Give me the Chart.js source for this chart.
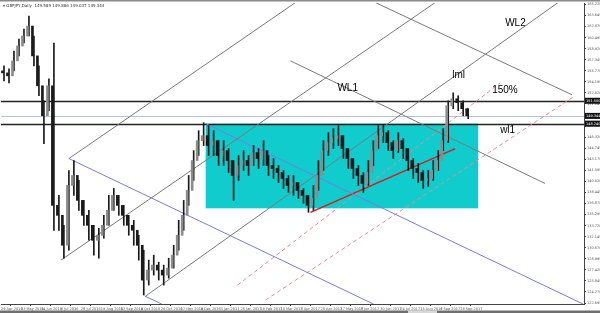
<!DOCTYPE html>
<html><head><meta charset="utf-8">
<script src="https://cdn.jsdelivr.net/npm/chart.js@4.4.0/dist/chart.umd.min.js"></script>
<style>html,body{margin:0;padding:0;background:#fff;overflow:hidden}#wrap{width:600px;height:313px;position:relative}</style>
</head><body><div id="wrap"><canvas id="c" width="600" height="313"></canvas></div>
<script>
// ---- data (GBPJPY, Daily, each entry = 4 trading days) ----
const opens  = [155.76,155.47,155.05,157.18,159.30,160.72,162.14,157.89,153.63,149.37,153.63,136.60,135.18,130.92,139.44,140.86,137.31,135.18,133.76,131.63,132.34,133.76,135.89,138.02,136.60,135.18,133.76,133.05,130.92,125.96,127.38,128.09,127.38,126.67,127.66,129.51,132.34,135.18,138.73,142.99,145.82,146.53,145.12,145.82,143.70,144.40,142.99,140.86,142.28,142.99,142.28,144.12,143.27,144.40,142.28,141.85,141.28,140.43,139.44,139.86,138.73,138.02,136.60,137.60,140.86,144.40,145.54,146.11,146.53,144.69,143.27,141.85,140.86,139.72,141.28,144.40,146.53,146.96,145.54,144.40,145.82,144.69,142.99,141.85,141.28,140.15,140.43,141.57,142.99,145.82,150.79,151.78,151.22,150.37];
const highs  = [156.47,156.04,158.59,160.30,161.72,163.56,160.72,156.47,151.50,154.62,159.73,138.02,133.76,141.57,142.99,140.15,137.31,135.89,133.76,133.34,135.18,138.02,139.01,138.02,136.60,135.18,134.47,132.34,130.21,128.80,129.51,128.51,128.09,129.08,130.92,134.47,137.31,140.86,144.40,147.24,148.38,147.96,147.24,145.82,145.82,144.69,142.99,143.70,144.40,143.70,145.12,144.69,145.82,143.70,143.27,142.28,141.57,140.86,140.86,139.86,139.01,138.02,139.44,142.99,145.82,146.96,147.53,147.96,146.53,144.69,143.27,142.28,141.28,142.99,145.82,147.96,148.10,147.24,145.82,146.96,146.11,144.69,143.27,142.56,141.57,141.57,142.99,144.40,147.53,151.50,152.63,152.21,151.50,150.37];
const lows   = [154.34,154.05,155.76,157.89,159.73,160.72,156.47,152.21,145.40,150.08,133.05,133.05,129.08,130.21,138.02,135.89,133.76,131.63,129.51,129.08,131.92,133.76,135.89,135.18,133.76,132.34,130.92,128.80,123.83,125.25,126.67,125.96,125.25,126.24,127.66,130.21,133.05,136.60,140.15,143.70,145.12,143.70,143.70,142.28,142.28,141.28,137.31,140.15,141.57,140.86,142.28,141.85,142.28,140.86,140.43,139.86,139.01,138.45,138.02,137.60,136.88,135.61,135.89,138.73,141.57,143.70,144.69,145.12,143.27,141.85,140.43,139.44,138.45,139.44,142.28,144.69,145.54,144.40,143.27,144.12,143.27,141.57,140.43,139.86,139.01,139.30,140.15,141.57,144.40,145.54,150.37,150.08,149.37,148.94];
const closes = [155.47,155.05,157.18,159.30,160.72,162.14,157.89,153.63,149.37,153.63,136.60,135.18,130.92,139.44,140.86,137.31,135.18,133.76,131.63,132.34,133.76,135.89,138.02,136.60,135.18,133.76,133.05,130.92,125.96,127.38,128.09,127.38,126.67,127.66,129.51,132.34,135.18,138.73,142.99,145.82,146.53,145.12,145.82,143.70,144.40,142.99,140.86,142.28,142.99,142.28,144.12,143.27,144.40,142.28,141.85,141.28,140.43,139.44,139.86,138.73,138.02,136.60,137.60,140.86,144.40,145.54,146.11,146.53,144.69,143.27,141.85,140.86,139.72,141.28,144.40,146.53,146.96,145.54,144.40,145.82,144.69,142.99,141.85,141.28,140.15,140.43,141.57,142.99,145.82,150.79,151.78,151.22,150.37,149.37];
const dateLabels = ['29 Apr 2016','23 May 2016','14 Jun 2016','6 Jul 2016','28 Jul 2016','19 Aug 2016','12 Sep 2016','4 Oct 2016','26 Oct 2016','17 Nov 2016','9 Dec 2016','3 Jan 2017','25 Jan 2017','16 Feb 2017','10 Mar 2017','3 Apr 2017','25 Apr 2017','17 May 2017','8 Jun 2017','30 Jun 2017','24 Jul 2017','15 Aug 2017','6 Sep 2017','28 Sep 2017'];
const yTickValues = [122.695,124.270,125.845,127.420,128.995,130.570,132.145,133.720,135.295,136.870,138.445,140.020,141.595,143.170,144.745,146.320,147.895,149.470,151.045,152.620,154.195,155.770,157.345,158.920,160.495,162.070,163.645,165.220];
const hLevels = [151.50, 148.24];      // black horizontal lines
const bidLevel = 149.344;              // current price line
const zoneBox = {x0:164, x1:382.4, yTop:148.24, yBot:136.18};
// trend lines: [x0,y0,x1,y1] in bar index / price
const grayLines = [[54.4,143.27,237.6,165.69],[48,128.80,349.6,165.69],[116,123.69,448,165.69],[232,157.18,436,139.72],[297.6,165.69,457.6,152.35]];
const blueLines = [[54.4,143.27,298.4,122.55],[115.2,123.69,128.8,122.55],[164,148.24,466.4,122.55]];
const redLine = [248,135.61,364,144.69];
const dashLines = [[189.6,125.25,400,154.05],[212,123.12,460,152.21]];
const notes = [['WL2',404,162.57],['WL1',269.6,153.34],['lml',361.6,155.19],['150%',393.6,153.06],['wl1',400,147.24]];

const idx = opens.map((_, i) => 2 + 4 * i);
const xTickIdx = dateLabels.map((_, i) => i * 16);

function lineDs(l, color, width, dash) {
  return {type:'line', data:[{x:l[0],y:l[1]},{x:l[2],y:l[3]}], borderColor:color, borderWidth:width,
    borderDash:dash||[], pointRadius:0, fill:false, tension:0, order:5};
}
const datasets = [
  {type:'bar', data: idx.map((x,i)=>({x, y:[lows[i], highs[i]]})), backgroundColor:'#1a1a1a', barThickness:1, order:2},
  {type:'bar', data: idx.map((x,i)=>({x, y:[Math.min(opens[i],closes[i]), Math.max(opens[i],closes[i])+0.001]})),
    backgroundColor: idx.map((x,i)=> closes[i]>=opens[i] ? '#8c8c8c' : '#1a1a1a'), borderWidth:0, barThickness:2, order:1},
];
grayLines.forEach(l=>datasets.push(lineDs(l,'#7a7a7a',1)));
blueLines.forEach(l=>datasets.push(lineDs(l,'#7b7be6',1)));
datasets.push(lineDs(redLine,'#e01818',1.5));
dashLines.forEach(l=>datasets.push(lineDs(l,'#f08a8a',1,[4,3])));

const decor = {
  id:'decor',
  beforeDatasetsDraw(chart){
    const {ctx, chartArea:a, scales:{x,y}} = chart;
    ctx.save();
    ctx.fillStyle = '#10CCCC';
    const x0=x.getPixelForValue(zoneBox.x0), x1=x.getPixelForValue(zoneBox.x1);
    const y0=y.getPixelForValue(zoneBox.yTop), y1=y.getPixelForValue(zoneBox.yBot);
    ctx.fillRect(x0,y0,x1-x0,y1-y0);
    ctx.lineWidth = 1.6; ctx.strokeStyle = '#222';
    hLevels.forEach(v=>{const p=Math.round(y.getPixelForValue(v))+0.5; ctx.beginPath(); ctx.moveTo(a.left,p); ctx.lineTo(a.right,p); ctx.stroke();});
    ctx.lineWidth = 1; ctx.strokeStyle = '#b4c4dc';
    const pb=Math.round(y.getPixelForValue(bidLevel))+0.5; ctx.beginPath(); ctx.moveTo(a.left,pb); ctx.lineTo(a.right,pb); ctx.stroke();
    ctx.restore();
  },
  afterDraw(chart){
    const {ctx, chartArea:a, scales:{x,y}} = chart;
    ctx.save();
    ctx.fillStyle = '#000'; ctx.font = '10px "Liberation Sans", Arial'; ctx.textBaseline='middle'; ctx.textAlign='left';
    notes.forEach(n=>ctx.fillText(n[0], x.getPixelForValue(n[1]), y.getPixelForValue(n[2])));
    ctx.font = '4px "DejaVu Sans"'; ctx.fillStyle='#333';
    ctx.fillText('\u25BE GBPJPY,Daily  149.589 149.886 149.037 149.344', 3, 6);
    // price tags
    [...hLevels, bidLevel].forEach(v=>{
      const p=y.getPixelForValue(v);
      ctx.fillStyle='#111'; ctx.fillRect(a.right+1,p-3,15,6);
      ctx.fillStyle='#fff'; ctx.font='3.5px "DejaVu Sans"'; ctx.fillText(v.toFixed(3), a.right+2, p);
    });
    ctx.fillStyle='#8a8a8a'; ctx.fillRect(0,0,600,1.5);
    ctx.fillStyle='#6f6f6f'; ctx.fillRect(0,310.5,600,2.5);
    ctx.fillStyle='#d8d8d8'; ctx.fillRect(408,310.5,29,2.5);
    ctx.restore();
  }
};

new Chart(document.getElementById('c'), {
  data:{datasets},
  options:{
    responsive:false, animation:false, events:[],
    layout:{padding:{top:2,left:0,right:0,bottom:0}},
    plugins:{legend:{display:false}, tooltip:{enabled:false}},
    scales:{
      x:{type:'linear', min:0, max:467.2, offset:false,
        grid:{display:true, drawOnChartArea:false, tickLength:2, color:'#444'},
        border:{display:true, color:'#444'},
        afterBuildTicks(s){ s.ticks = xTickIdx.map(v=>({value:v})); },
        afterFit(s){ s.height = 9; },
        ticks:{autoSkip:false, maxRotation:0, align:'start', padding:1, color:'#555', font:{size:3.5, family:'DejaVu Sans'},
          callback:(v)=>dateLabels[xTickIdx.indexOf(v)]}},
      y:{type:'linear', position:'right', min:122.553, max:165.41,
        grid:{display:true, drawOnChartArea:false, tickLength:2, color:'#444'},
        border:{display:true, color:'#444'},
        afterBuildTicks(s){ s.ticks = yTickValues.map(v=>({value:v})); },
        afterFit(s){ s.width = 16; },
        ticks:{autoSkip:false, padding:1, color:'#555', font:{size:3.5, family:'DejaVu Sans'},
          callback:(v)=>v.toFixed(3)}}
    }
  },
  plugins:[decor]
});
</script></body></html>
